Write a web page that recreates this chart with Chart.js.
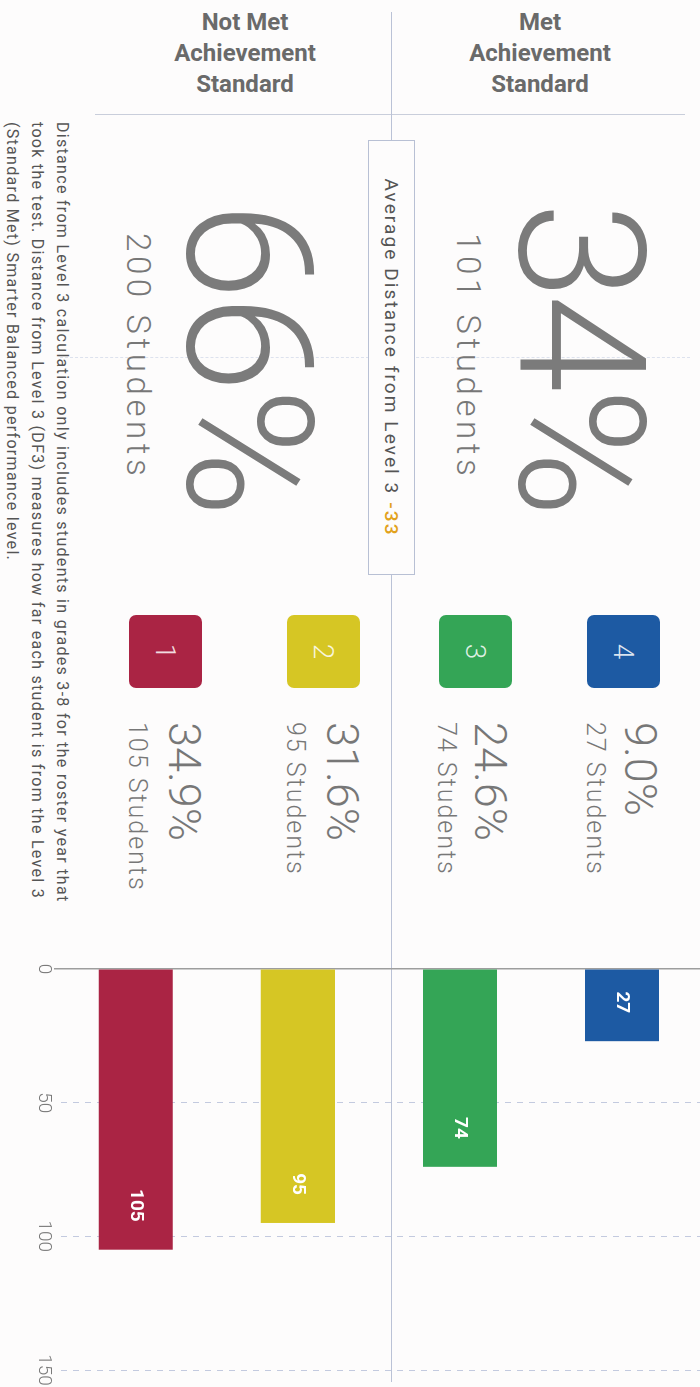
<!DOCTYPE html>
<html>
<head>
<meta charset="utf-8">
<script src="https://cdn.jsdelivr.net/npm/chart.js@4.4.1/dist/chart.umd.min.js"></script>
<style>
  html, body { margin: 0; padding: 0; background: #fdfcfc; }
  body { width: 700px; height: 1387px; position: relative; overflow: hidden; font-family: Roboto, "Noto Sans", sans-serif; }
  .hdr { position: absolute; text-align: center; font-weight: 700; font-size: 24px; line-height: 31px; color: #6a6a6a; }
  #rot { position: absolute; left: 0; top: 0; width: 1387px; height: 700px; transform-origin: 0 0; transform: translateX(700px) rotate(90deg); }
  .t { position: absolute; white-space: nowrap; line-height: 1; color: #777; font-weight: 300; }
  .box { position: absolute; width: 73px; height: 73px; border-radius: 7px; color: rgba(255,255,255,0.85); font-weight: 300; font-size: 28px; display: flex; align-items: center; justify-content: center; }
</style>
</head>
<body>
<div class="hdr" style="left:95px; top:7px; width:300px;">Not Met<br>Achievement<br>Standard</div>
<div class="hdr" style="left:395px; top:7px; width:290px;">Met<br>Achievement<br>Standard</div>
<div style="position:absolute; left:95px; top:114px; width:590px; height:0; border-top:1.5px solid #c9cedb;"></div>
<div style="position:absolute; left:391px; top:12px; width:0; height:1370px; border-left:1px solid #bac2d6;"></div>
<div style="position:absolute; left:60px; top:357px; width:630px; height:0; border-top:1px dashed #dde2ee;"></div>

<div id="rot">
  <div id="avgBox" style="position:absolute; left:140px; top:285px; width:435px; height:47px; box-sizing:border-box; border:1.5px solid #b8c0d4; background:#fdfcfc; display:flex; align-items:center; justify-content:center; font-size:19px; letter-spacing:2.1px; color:#555; white-space:nowrap;"></div>
  <div id="chartWrap" style="position:absolute; left:940px; top:-3px; width:447px; height:700px;">
    <canvas id="levelChart" width="447" height="700"></canvas>
  </div>
</div>

<script>
// level data
const levels = ["4", "3", "2", "1"];
const studentCounts = [27, 74, 95, 105];
const levelPercents = ["9.0%", "24.6%", "31.6%", "34.9%"];
const levelColors = ["#1d5aa3", "#34a556", "#d6c624", "#aa2444"];
const xTicks = [0, 50, 100, 150];

// summary
const metPercent = "34%";
const metStudents = 101;
const notMetPercent = "66%";
const notMetStudents = 200;
const avgDistance = -33;
const footnoteLines = [
	"Distance from Level 3 calculation only includes students in grades 3-8 for the roster year that",
	"took the test. Distance from Level 3 (DF3) measures how far each student is from the Level 3",
	"(Standard Met) Smarter Balanced performance level.",
];

const rot = document.getElementById("rot");

function addText(txt, left, baseline, size, extra) {
	const d = document.createElement("div");
	d.className = "t";
	d.textContent = txt;
	d.style.left = left + "px";
	d.style.top = (baseline - 0.842 * size) + "px";
	d.style.fontSize = size + "px";
	Object.assign(d.style, extra || {});
	rot.appendChild(d);
	return d;
}

// big summary numbers
addText(metPercent, 202, 180, 176, { letterSpacing: "-5px", color: "#7b7b7b" });
addText(metStudents + " Students", 233, 243, 33, { letterSpacing: "4.6px" });
addText(notMetPercent, 202, 512, 176, { letterSpacing: "-5px", color: "#7b7b7b" });
addText(notMetStudents + " Students", 233, 573, 33, { letterSpacing: "4.6px" });

document.getElementById("avgBox").innerHTML =
	'Average Distance from Level 3&nbsp;<span style="color:#e2a21c;font-weight:500">' + avgDistance + "</span>";

// level boxes and percents
const rowTop = [40, 188, 340, 498];
const pctBase = [75, 225, 373, 531];
const stuBase = [113, 262, 413, 571];
levels.forEach((lv, i) => {
	const b = document.createElement("div");
	b.className = "box";
	b.style.left = "615px";
	b.style.top = rowTop[i] + "px";
	b.style.background = levelColors[i];
	b.textContent = lv;
	rot.appendChild(b);
	addText(levelPercents[i], 722, pctBase[i], 45);
	addText(studentCounts[i] + " Students", 722, stuBase[i], 25, { letterSpacing: "2px" });
});

// footnote
footnoteLines.forEach((ln, i) => {
	addText(ln, 122, 643 + i * 25, 16, { letterSpacing: "1.3px", color: "#555", fontWeight: 400 });
});

// value labels inside bars
const barLabels = {
	id: "barLabels",
	afterDatasetsDraw(chart) {
		const ctx = chart.ctx;
		const meta = chart.getDatasetMeta(0);
		ctx.save();
		ctx.font = "bold 19px Roboto, sans-serif";
		ctx.fillStyle = "#ffffff";
		ctx.textAlign = "right";
		ctx.textBaseline = "middle";
		meta.data.forEach((bar, i) => {
			ctx.fillText(String(studentCounts[i]), bar.x - 28, bar.y);
		});
		ctx.restore();
	},
};

const levelData = {
	labels: levels,
	datasets: [
		{
			label: "Students",
			backgroundColor: levelColors,
			borderWidth: 0,
			data: studentCounts,
			barPercentage: 0.457,
			categoryPercentage: 1,
		},
	],
};

const levelConfig = {
	type: "bar",
	data: levelData,
	options: {
		indexAxis: "y",
		responsive: false,
		animation: false,
		layout: { padding: { left: 21, right: 17, top: 0, bottom: 29 } },
		plugins: { legend: { display: false }, tooltip: { enabled: false } },
		scales: {
			x: {
				min: xTicks[0],
				max: xTicks[xTicks.length - 1],
				afterBuildTicks: (scale) => {
					scale.ticks = xTicks.map((v) => ({ value: v }));
				},
				grid: {
					color: (c) => (c.tick && c.tick.value === 0 ? "rgba(0,0,0,0)" : "#c3cadf"),
					lineWidth: 1,
					drawTicks: false,
				},
				border: { display: false, dash: [6, 6] },
				ticks: {
					padding: 0,
					color: "#7a7a7a",
					font: { family: "Roboto", size: 19, weight: 300 },
				},
			},
			y: {
				grid: { display: false },
				ticks: { display: false },
				border: { display: true, color: "#9d9d9d", width: 1.5 },
			},
		},
	},
	plugins: [barLabels],
};

const levelChart = new Chart(document.getElementById("levelChart"), levelConfig);
</script>
</body>
</html>
